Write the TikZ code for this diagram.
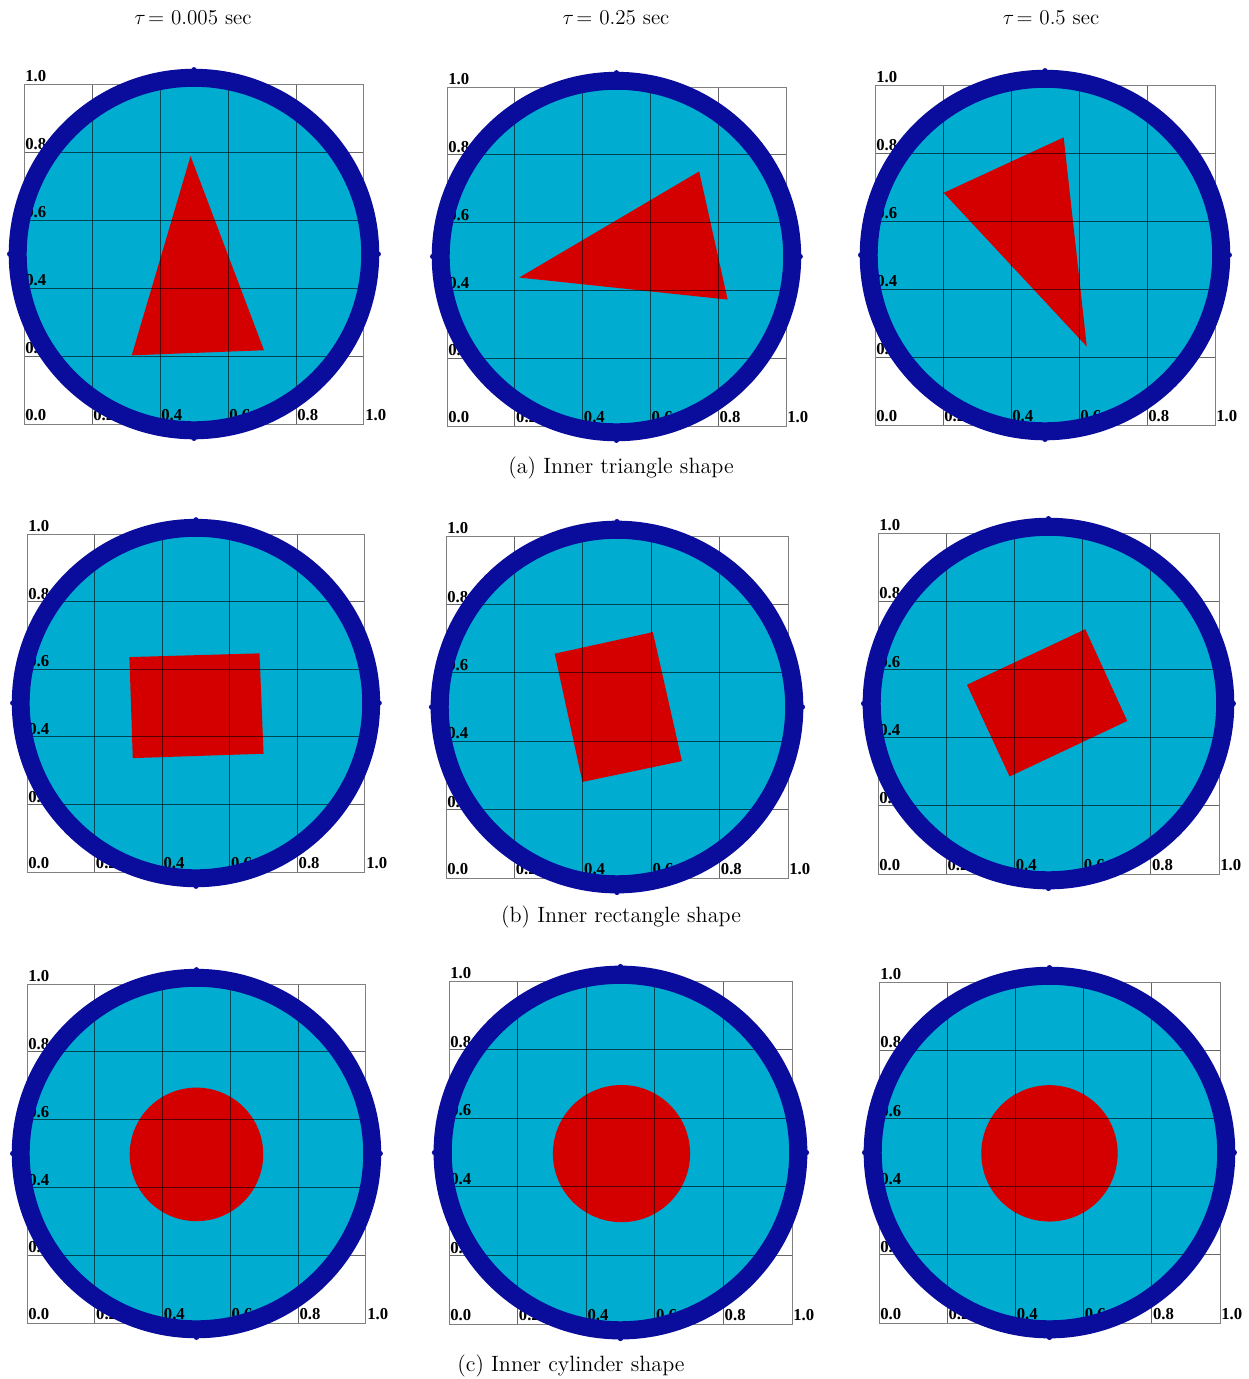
\documentclass[tikz,border=0pt]{standalone}
\usepackage{fontspec}
\newfontfamily\libserif{Liberation Serif}
\definecolor{cyanfill}{RGB}{0,172,208}
\definecolor{ringblue}{RGB}{10,12,155}
\definecolor{shapered}{RGB}{212,0,0}
\tikzset{
  ticklab/.style={font={\libserif\bfseries\fontsize{9.5}{10}\selectfont}, anchor=base west, inner sep=0pt, text=black},
  gridline/.style={draw=black, line width=0.45pt, opacity=0.6},
  boxline/.style={draw=black!50, line width=0.5pt},
  headtxt/.style={font={\fontsize{12}{14}\selectfont}, inner sep=0pt, anchor=center},
  captxt/.style={font={\fontsize{12.6}{14}\selectfont}, inner sep=0pt, anchor=center},
}
% #1 id, #2 left px, #3 bottom px, #4 size cm, #5 inner shape
\newcommand\mypanel[5]{%
  \begin{scope}[shift={(#2,#3)}, x=#4cm, y=#4cm]
    \fill[cyanfill] (0.5,0.5) circle (0.5);
    #5
    \foreach \v in {0.2,0.4,0.6,0.8}{
      \draw[gridline] (\v,0) -- (\v,1);
      \draw[gridline] (0,\v) -- (1,\v);
    }
    \draw[boxline] (0,0) rectangle (1,1);
    \node[ticklab] (#1-t10) at (0.003,1.007) {1.0};
    \node[ticklab] (#1-l08) at (0.003,0.807) {0.8};
    \node[ticklab] (#1-l06) at (0.003,0.607) {0.6};
    \node[ticklab] (#1-l04) at (0.003,0.407) {0.4};
    \node[ticklab] (#1-l02) at (0.003,0.207) {0.2};
    \node[ticklab] (#1-b00) at (0.003,0.009) {0.0};
    \node[ticklab] (#1-b02) at (0.203,0.009) {0.2};
    \node[ticklab] (#1-b04) at (0.403,0.009) {0.4};
    \node[ticklab] (#1-b06) at (0.603,0.009) {0.6};
    \node[ticklab] (#1-b08) at (0.803,0.009) {0.8};
    \node[ticklab] (#1-b10) at (1.003,0.009) {1.0};
    \fill[ringblue, even odd rule] (0.5,0.5) circle (0.545) (0.5,0.5) circle (0.492);
    \fill[ringblue] (0.5,1.042) circle (0.008) (0.5,-0.042) circle (0.008)
                    (-0.042,0.5) circle (0.008) (1.042,0.5) circle (0.008);
  \end{scope}%
}
\begin{document}
\begin{tikzpicture}[x=0.02cm, y=-0.02cm]
\fill[white] (0,0) rectangle (1248,1379);
\useasboundingbox (0,0) rectangle (1248,1379);

% headers
\node[headtxt] (h1) at (193,18) {$\tau\!=$ 0.005 sec};
\node[headtxt] (h2) at (616,18) {$\tau\!=$ 0.25 sec};
\node[headtxt] (h3) at (1051,18) {$\tau\!=$ 0.5 sec};

% row (a): triangles
\mypanel{p11}{24}{424}{6.80}{\fill[shapered] (0.49,0.788) -- (0.317,0.202) -- (0.706,0.217) -- cycle;}
\mypanel{p12}{447}{426}{6.78}{\fill[shapered] (0.213,0.438) -- (0.744,0.751) -- (0.828,0.373) -- cycle;}
\mypanel{p13}{875}{425}{6.80}{\fill[shapered] (0.202,0.683) -- (0.555,0.846) -- (0.623,0.231) -- cycle;}
\node[captxt] (capa) at (621,468) {(a) Inner triangle shape};

% row (b): rectangles
\mypanel{p21}{27}{872}{6.76}{\fill[shapered] (0.303,0.636) -- (0.688,0.647) -- (0.700,0.350) -- (0.313,0.337) -- cycle;}
\mypanel{p22}{446}{878}{6.84}{\fill[shapered] (0.318,0.656) -- (0.605,0.719) -- (0.690,0.342) -- (0.399,0.281) -- cycle;}
\mypanel{p23}{878}{874}{6.82}{\fill[shapered] (0.261,0.555) -- (0.608,0.718) -- (0.731,0.449) -- (0.386,0.286) -- cycle;}
\node[captxt] (capb) at (621,917) {(b) Inner rectangle shape};

% row (c): cylinders
\mypanel{p31}{27}{1323}{6.78}{\fill[shapered] (0.5,0.4975) circle (0.197);}
\mypanel{p32}{449}{1324}{6.86}{\fill[shapered] (0.503,0.497) circle (0.2);}
\mypanel{p33}{879}{1323}{6.82}{\fill[shapered] (0.5,0.4976) circle (0.2);}
\node[captxt] (capc) at (571,1366) {(c) Inner cylinder shape};
\end{tikzpicture}
\end{document}
